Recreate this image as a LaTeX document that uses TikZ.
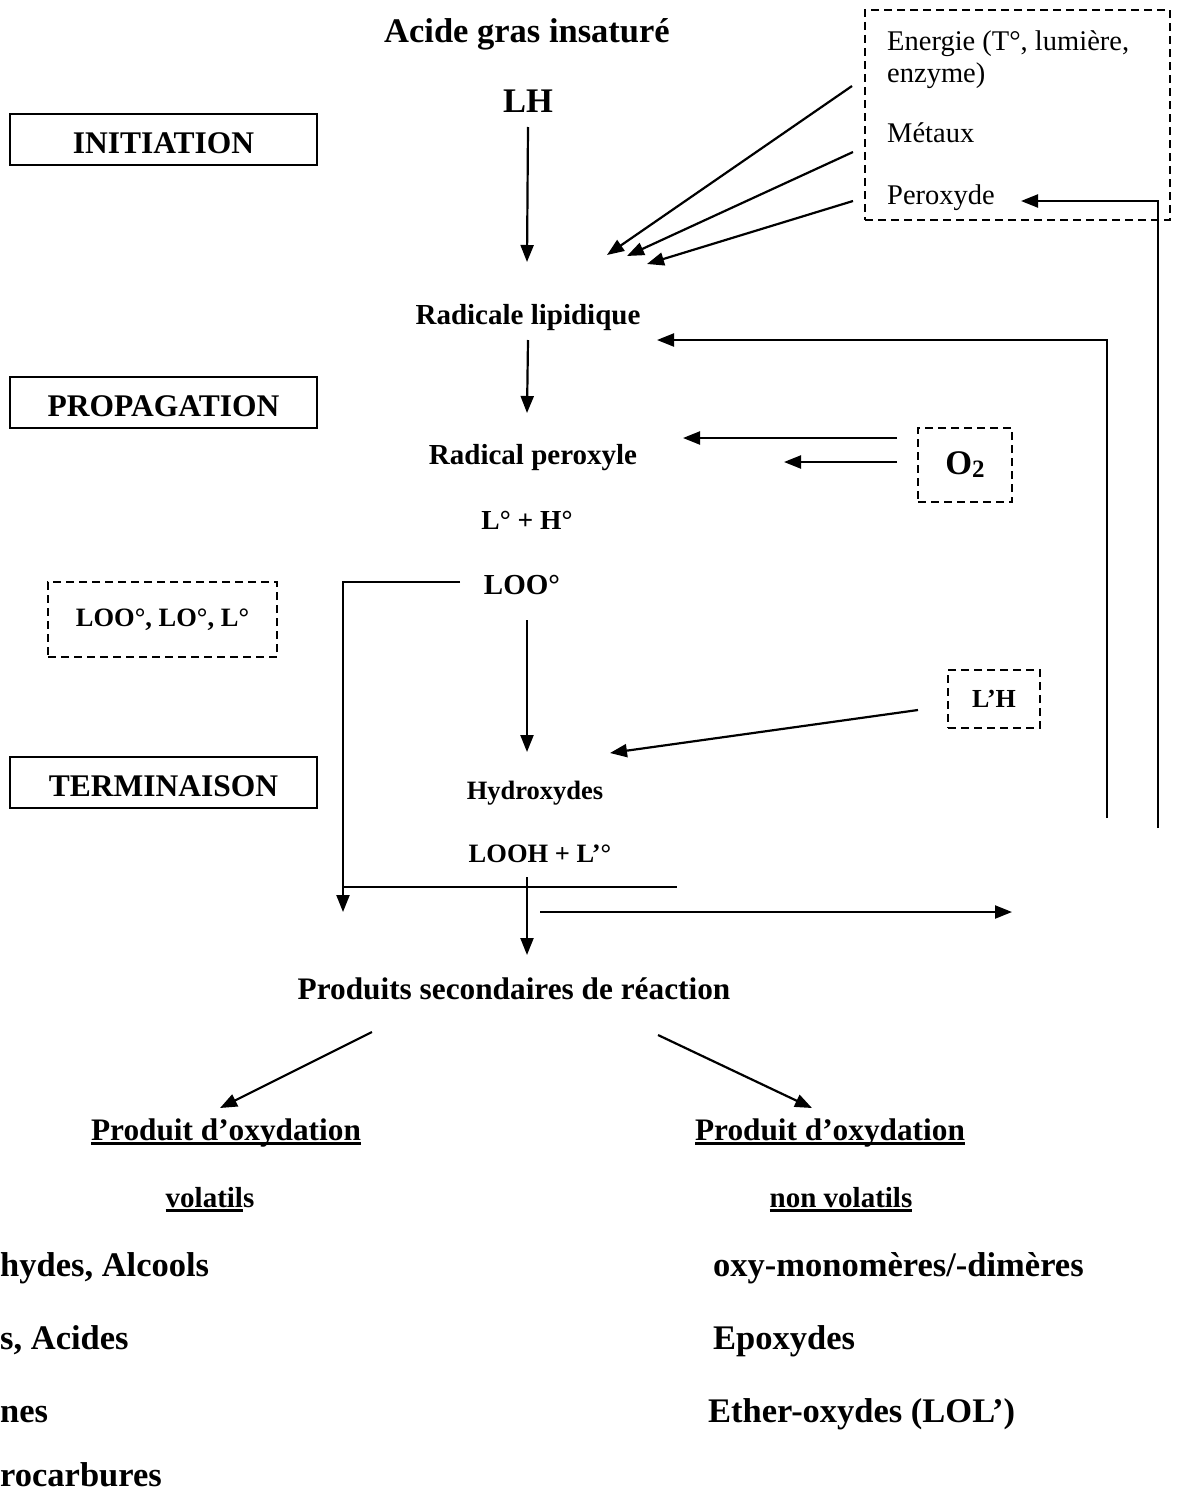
\documentclass[tikz,border=0pt]{standalone}
\usepackage{fontspec}
\setmainfont{Liberation Serif}
\usetikzlibrary{arrows.meta}
\newcommand\myul[1]{\setbox0\hbox{#1}\rlap{\rule[-5pt]{\wd0}{2.6pt}}\box0}
\begin{document}
\begin{tikzpicture}[x=1pt,y=-1pt,
  arr/.style={-{Triangle[length=17pt,width=13pt]}, line width=2.2pt},
  plain/.style={line width=2.2pt},
  txt/.style={anchor=base, inner sep=0pt},
  big/.style={txt, font=\bfseries\fontsize{34.5}{40}\selectfont},
  mid/.style={txt, font=\bfseries\fontsize{29}{34}\selectfont},
  sec/.style={txt, font=\bfseries\fontsize{31.3}{36}\selectfont},
  sml/.style={txt, font=\bfseries\fontsize{26.5}{31}\selectfont},
  reg/.style={anchor=base west, inner sep=0pt, font=\fontsize{28.5}{33}\selectfont},
  phase/.style={draw, line width=1.5pt, minimum width=307pt, minimum height=51pt, inner sep=0pt,
    text height=27pt, text depth=0pt, font=\bfseries\fontsize{31.5}{36}\selectfont},
  dbox/.style={draw, dash pattern=on 8pt off 5pt, line width=1.5pt, inner sep=0pt},
]
\useasboundingbox (0,0) rectangle (1176,1499);

% phase boxes
\node[phase] (init) at (163.5,139.5) {INITIATION};
\node[phase] (prop) at (163.5,402.5) {PROPAGATION};
\node[phase] (term) at (163.5,782.5) {TERMINAISON};

% main column
\node[big] (acide) at (527,42) {Acide gras insaturé};
\node[big] (lh) at (528,112) {LH};
\node[mid] (rad) at (528,324) {Radicale lipidique};
\node[mid] (perox) at (533,464) {Radical peroxyle};
\node[sml, font=\bfseries\fontsize{27.5}{32}\selectfont] (lh2) at (527,529) {L° + H°};
\node[mid] (loo) at (522,594) {LOO°};
\node[sml] (hyd) at (535,799) {Hydroxydes};
\node[sml] (looh) at (540,862) {LOOH + L’°};
\node[sec] (prod) at (514,999) {Produits secondaires de réaction};

% energy sources box
\node[dbox, minimum width=305pt, minimum height=210pt] (src) at (1017.5,115) {};
\node[reg] (en1) at (887,50) {Energie (T°, lumière,};
\node[reg] (en2) at (887,82) {enzyme)};
\node[reg] (met) at (887,142) {Métaux};
\node[reg] (per) at (887,204) {Peroxyde};

% O2 box
\node[dbox, minimum width=94pt, minimum height=74pt] (o2) at (965,465)
  {\bfseries\fontsize{34.5}{40}\selectfont O\raisebox{-3pt}{\fontsize{25}{28}\selectfont 2}};

% LOO box
\node[dbox, minimum width=229pt, minimum height=75pt] (loobox) at (162.5,619.5)
  {\bfseries\fontsize{26.5}{31}\selectfont LOO°, LO°, L°};

% L'H box
\node[dbox, minimum width=92pt, minimum height=58pt] (lhbox) at (994,699)
  {\bfseries\fontsize{26}{30}\selectfont L’H};

% coordinates
\coordinate (s1) at (852,86);   \coordinate (t1) at (607,255);
\coordinate (s2) at (853,152);  \coordinate (t2) at (627,256);
\coordinate (s3) at (853,201);  \coordinate (t3) at (647,264);
\coordinate (lhtip) at (527,262);
\coordinate (radtip) at (527,413);
\coordinate (radin) at (657,340);
\coordinate (r1b) at (1107,818);
\coordinate (r2b) at (1158,828);
\coordinate (pertip) at (1021,201);
\coordinate (o2a) at (897,438); \coordinate (o2at) at (683,438);
\coordinate (o2b) at (897,462); \coordinate (o2bt) at (784,462);
\coordinate (lbs) at (460,582); \coordinate (lbt) at (343,912);
\coordinate (lootip) at (527,752);
\coordinate (lhs) at (918,710); \coordinate (lht) at (610,753);
\coordinate (hl1) at (343,887); \coordinate (hl2) at (677,887);
\coordinate (vs) at (527,877); \coordinate (vt) at (527,955);
\coordinate (rs) at (540,912); \coordinate (rt) at (1012,912);
\coordinate (bl1) at (372,1032); \coordinate (bl2) at (220,1108);
\coordinate (br1) at (658,1035); \coordinate (br2) at (812,1108);

% arrows
\draw[arr] (lh.south |- 0,127) -- (lhtip);
\draw[arr] (s1) -- (t1);
\draw[arr] (s2) -- (t2);
\draw[arr] (s3) -- (t3);
\draw[arr] (r2b) |- (pertip);
\draw[arr] (r1b) |- (radin);
\draw[arr] (rad.south |- 0,340) -- (radtip);
\draw[arr] (o2a) -- (o2at);
\draw[arr] (o2b) -- (o2bt);
\draw[arr] (lbs) -| (lbt);
\draw[arr] (527,620) -- (lootip);
\draw[arr] (lhs) -- (lht);
\draw[plain] (hl1) -- (hl2);
\draw[arr] (vs) -- (vt);
\draw[arr] (rs) -- (rt);
\draw[arr] (bl1) -- (bl2);
\draw[arr] (br1) -- (br2);

% products
\node[sec] (pol) at (226,1140) {\myul{Produit d’oxydation}};
\node[sec] (por) at (830,1140) {\myul{Produit d’oxydation}};
\node[mid] (vol) at (210,1207) {\myul{volatil}s};
\node[mid] (nvol) at (841,1207) {\myul{non volatils}};

\node[big, anchor=base west] (l1) at (0,1276) {hydes, Alcools};
\node[big, anchor=base west] (l2) at (0,1349) {s, Acides};
\node[big, anchor=base west] (l3) at (0,1422) {nes};
\node[big, anchor=base west] (l4) at (0,1486) {rocarbures};

\node[big, anchor=base west] (r1) at (713,1276) {oxy-monomères/-dimères};
\node[big, anchor=base west] (r2) at (713,1349) {Epoxydes};
\node[big, anchor=base west] (r3) at (708,1422) {Ether-oxydes (LOL’)};
\end{tikzpicture}
\end{document}
